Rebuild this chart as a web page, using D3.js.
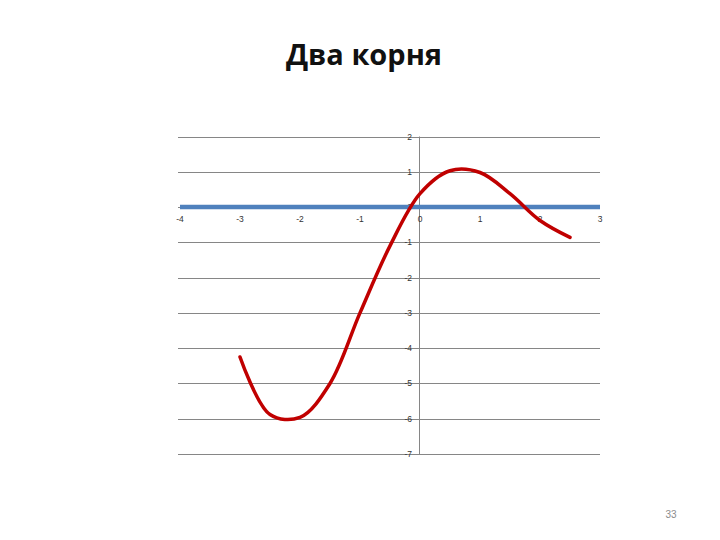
<!DOCTYPE html>
<html>
<head>
<meta charset="utf-8">
<script src="https://cdn.jsdelivr.net/npm/d3@7"></script>
<style>
  body { margin: 0; background: #fff; }
  svg { display: block; }
</style>
</head>
<body>
<div class="content"></div>
<script>
var width = 720
var height = 540

// values
var xs = [-3, -2.5, -2, -1.5, -1, -0.5, 0, 0.5, 1, 1.5, 2, 2.5]
var ys = [-4.25, -5.88, -5.96, -5.0, -3.0, -1.1, 0.38, 1.03, 0.98, 0.38, -0.38, -0.86]
var lineXs = [-4, 3]
var lineYs = [0, 0]
var xTicks = [-4, -3, -2, -1, 0, 1, 2, 3]
var yTicks = [2, 1, 0, -1, -2, -3, -4, -5, -6, -7]

var x = d3.scaleLinear()
    .domain([-4, 3])
    .range([180, 600])

var y = d3.scaleLinear()
    .domain([-7, 2])
    .range([454, 136.5])

var svg = d3.select('.content').append('svg')
    .attr('width', width)
    .attr('height', height)

svg.append('text')
    .attr('x', 364)
    .attr('y', 65)
    .attr('text-anchor', 'middle')
    .style('font-family', 'Open Sans, sans-serif')
    .style('font-weight', 'bold')
    .style('font-size', '29px')
    .style('fill', '#111')
    .text('Два корня')

// horizontal gridlines
svg.append('g')
    .selectAll('line')
    .data(yTicks)
    .enter().append('line')
    .attr('x1', 178)
    .attr('x2', 600)
    .attr('y1', function(d) { return Math.round(y(d)) + 0.5 })
    .attr('y2', function(d) { return Math.round(y(d)) + 0.5 })
    .style('stroke', '#868686')
    .style('stroke-width', 1)

// vertical axis at x = 0
svg.append('line')
    .attr('x1', Math.round(x(0)) - 0.5)
    .attr('x2', Math.round(x(0)) - 0.5)
    .attr('y1', y(2))
    .attr('y2', y(-7))
    .style('stroke', '#868686')
    .style('stroke-width', 1)

var labelFont = 'Liberation Sans, Arial, sans-serif'

svg.append('g')
    .selectAll('text')
    .data(yTicks)
    .enter().append('text')
    .attr('x', x(0) - 8)
    .attr('y', function(d) { return y(d) + 3 })
    .attr('text-anchor', 'end')
    .style('font-family', labelFont)
    .style('font-size', '8.5px')
    .style('fill', '#333')
    .text(function(d) { return d })

svg.append('g')
    .selectAll('text')
    .data(xTicks)
    .enter().append('text')
    .attr('x', function(d) { return x(d) })
    .attr('y', y(0) + 15)
    .attr('text-anchor', 'middle')
    .style('font-family', labelFont)
    .style('font-size', '8.5px')
    .style('fill', '#333')
    .text(function(d) { return d })

// blue line y = 0
var line = d3.line()
    .x(function(d) { return x(d[0]) })
    .y(function(d) { return y(d[1]) })

svg.append('path')
    .datum(d3.zip(lineXs, lineYs))
    .attr('d', line)
    .style('fill', 'none')
    .style('stroke', '#4f81bd')
    .style('stroke-width', 4.5)

// red curve
svg.append('path')
    .datum(d3.zip(xs, ys))
    .attr('d', line.curve(d3.curveCatmullRom.alpha(0.5)))
    .style('fill', 'none')
    .style('stroke', '#c00000')
    .style('stroke-width', 3.5)
    .style('stroke-linecap', 'round')

svg.append('text')
    .attr('x', 671)
    .attr('y', 518)
    .attr('text-anchor', 'middle')
    .style('font-family', 'Liberation Sans, Arial, sans-serif')
    .style('font-size', '10px')
    .style('fill', '#8c8c8c')
    .text('33')
</script>
</body>
</html>
